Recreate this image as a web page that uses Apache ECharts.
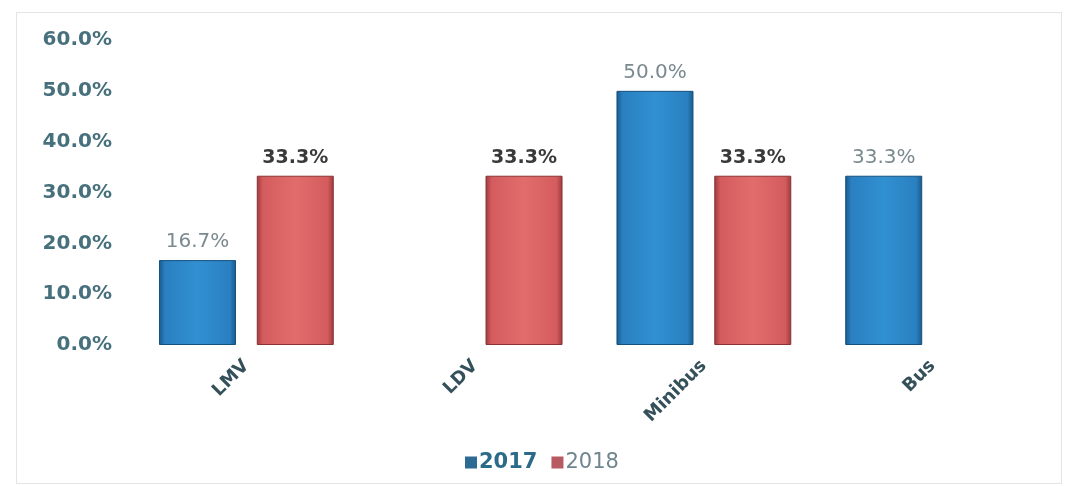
<!DOCTYPE html>
<html>
<head>
<meta charset="utf-8">
<script src="https://cdn.jsdelivr.net/npm/echarts@6/dist/echarts.min.js"></script>
<style>
  html, body { margin: 0; padding: 0; background: #fff; }
  #chart { width: 1068px; height: 486px; }
  #frame { position: absolute; left: 16px; top: 12px; width: 1044px; height: 470px;
           border: 1px solid #e4e4e4; pointer-events: none; }
</style>
</head>
<body>
<div id="chart"></div>
<div id="frame"></div>
<script>
var categories = ['LMV', 'LDV', 'Minibus', 'Bus'];
var data2017 = [16.7, null, 50.0, 33.3];
var data2018 = [33.3, 33.3, 33.3, null];
var yTicks = [0, 10, 20, 30, 40, 50, 60];

var FONT = 'DejaVu Sans';

function bevel(dark, mid, light) {
	return {
		type : 'linear', x : 0, y : 0, x2 : 1, y2 : 0,
		colorStops : [
			{ offset : 0, color : dark },
			{ offset : 0.08, color : mid },
			{ offset : 0.5, color : light },
			{ offset : 0.92, color : mid },
			{ offset : 1, color : dark }
		]
	};
}

var chart = echarts.init(document.getElementById('chart'));
var option = {
	animation : false,
	textStyle : { fontFamily : FONT },
	grid : { left : 132, right : 21, top : 40, bottom : 141 },
	legend : {
		bottom : 8,
		left : 460,
		icon : 'rect',
		itemWidth : 12,
		itemHeight : 12,
		itemGap : 14,
		data : [
			{ name : '2017', itemStyle : { color : '#2d6b95', borderWidth : 0 },
			  textStyle : { color : '#2c6a8a', fontWeight : 'bold' } },
			{ name : '2018', itemStyle : { color : '#b85a62', borderWidth : 0 },
			  textStyle : { color : '#6f8590' } }
		],
		textStyle : { fontFamily : FONT, fontSize : 21, padding : [0, 0, 0, -3] }
	},
	xAxis : {
		type : 'category',
		data : categories,
		axisLine : { show : false },
		axisTick : { show : false },
		axisLabel : {
			rotate : 45,
			margin : 18,
			fontFamily : FONT,
			fontSize : 18,
			fontWeight : 'bold',
			color : '#34505a'
		}
	},
	yAxis : {
		type : 'value',
		min : yTicks[0],
		max : yTicks[yTicks.length - 1],
		interval : 10,
		splitLine : { show : false },
		axisLine : { show : false },
		axisTick : { show : false },
		axisLabel : {
			margin : 20,
			fontFamily : FONT,
			fontSize : 20,
			fontWeight : 'bold',
			color : '#46707c',
			formatter : function(v) { return v.toFixed(1) + '%'; }
		}
	},
	series : [ {
		name : '2017',
		type : 'bar',
		data : data2017,
		barWidth : 77,
		barGap : '27%',
		itemStyle : {
			color : bevel('#175a8c', '#2a80c0', '#3190d2'),
			borderColor : '#16507c',
			borderWidth : 1
		},
		label : {
			show : true,
			position : 'top',
			distance : 8,
			fontFamily : FONT,
			fontSize : 20,
			color : '#7b8a90',
			formatter : function(p) { return p.value.toFixed(1) + '%'; }
		}
	}, {
		name : '2018',
		type : 'bar',
		data : data2018,
		barWidth : 77,
		itemStyle : {
			color : bevel('#9c3a3c', '#d45c5e', '#e26c6c'),
			borderColor : '#8a3234',
			borderWidth : 1
		},
		label : {
			show : true,
			position : 'top',
			distance : 8,
			fontFamily : FONT,
			fontSize : 19,
			fontWeight : 'bold',
			color : '#3a3a3a',
			formatter : function(p) { return p.value.toFixed(1) + '%'; }
		}
	} ]
};
chart.setOption(option);
</script>
</body>
</html>
